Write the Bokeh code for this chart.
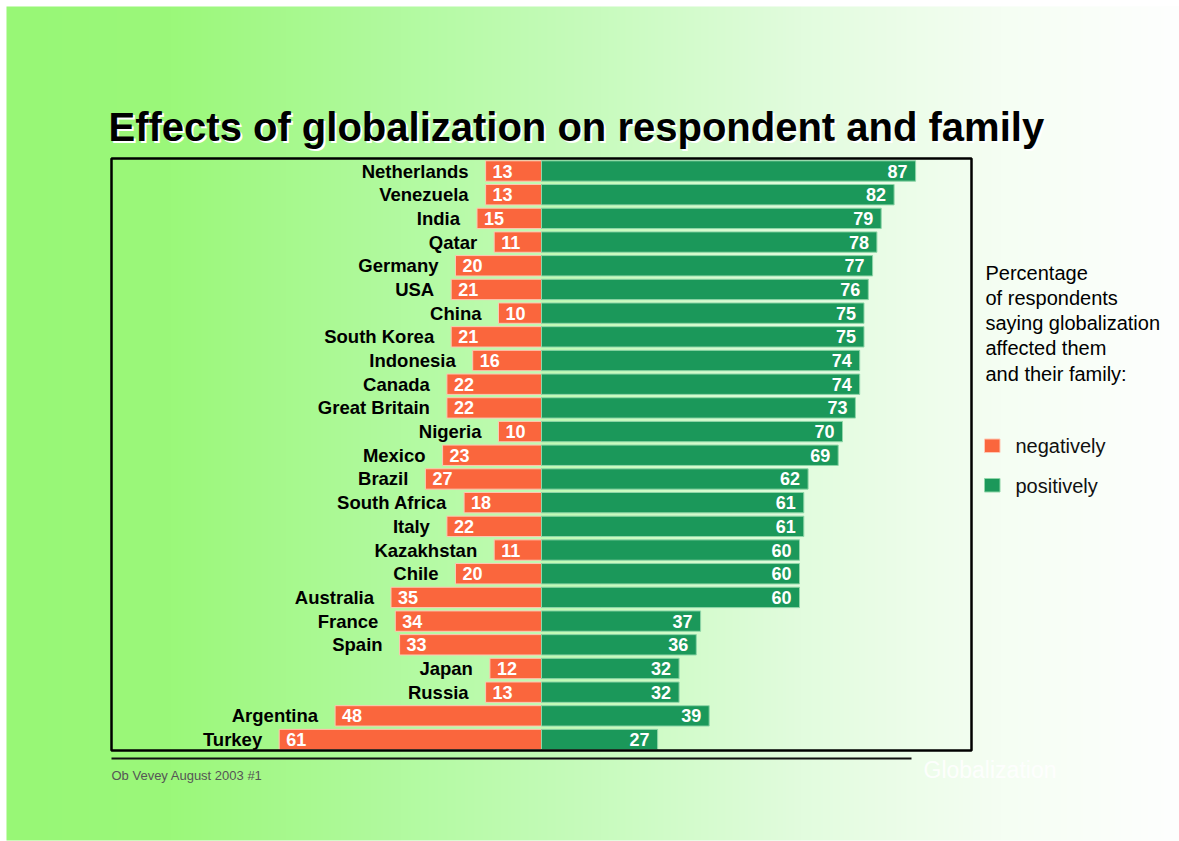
import numpy as np
from bokeh.plotting import figure
from bokeh.models import Range1d
from bokeh.core.properties import value
from bokeh.embed import file_html
from bokeh.resources import INLINE

# ---------------- data ----------------
countries = ["Netherlands", "Venezuela", "India", "Qatar", "Germany", "USA", "China",
             "South Korea", "Indonesia", "Canada", "Great Britain", "Nigeria", "Mexico",
             "Brazil", "South Africa", "Italy", "Kazakhstan", "Chile", "Australia",
             "France", "Spain", "Japan", "Russia", "Argentina", "Turkey"]
negative = [13, 13, 15, 11, 20, 21, 10, 21, 16, 22, 22, 10, 23, 27, 18, 22, 11, 20, 35,
            34, 33, 12, 13, 48, 61]
positive = [87, 82, 79, 78, 77, 76, 75, 75, 74, 74, 73, 70, 69, 62, 61, 61, 60, 60, 60,
            37, 36, 32, 32, 39, 27]
series_names = ["negatively", "positively"]
legend_lines = ["Percentage", "of respondents", "saying globalization",
                "affected them", "and their family:"]
title_text = "Effects of globalization on respondent and family"
footer_text = "Ob  Vevey  August 2003   #1"
watermark_text = "Globalization"

# ---------------- style ----------------
ORANGE = "#fa663d"
GREEN = "#1b985a"
FONT = "Liberation Sans"

W, H = 1179, 841
CX, KX = 541.0, 4.3       # pixel of zero, pixels per percent
Y0, KY = 170.5, 23.69     # pixel of first row centre, pixels per row


def X(px):
    return (px - CX) / KX


def Y(py):
    return -(py - Y0) / KY


p = figure(width=W, height=H, x_range=Range1d(X(0), X(W)), y_range=Range1d(Y(H), Y(0)),
           output_backend="svg", toolbar_location=None, min_border=0,
           x_axis_location=None, y_axis_location=None)
p.grid.visible = False
p.outline_line_color = None
p.background_fill_color = "white"
p.border_fill_color = "white"

# background gradient panel
gx = np.arange(6, W)
stops_x = [6, 170, 400, 600, 800, 1000, 1179]
stops_c = [(152, 247, 118), (155, 248, 122), (178, 250, 160), (200, 251, 190),
           (226, 252, 222), (245, 254, 243), (254, 255, 254)]
r = np.interp(gx, stops_x, [c[0] for c in stops_c]).astype(np.uint32)
g = np.interp(gx, stops_x, [c[1] for c in stops_c]).astype(np.uint32)
b = np.interp(gx, stops_x, [c[2] for c in stops_c]).astype(np.uint32)
img = (255 << 24) | (b << 16) | (g << 8) | r
img = img.reshape(1, -1).astype(np.uint32)
p.image_rgba(image=[img], x=X(6), y=Y(840), dw=(W - 6) / KX, dh=(840 - 6) / KY)

# title with white shadow
p.text(x=[X(110)], y=[Y(128)], text=[title_text], text_color="white",
       text_font=value(FONT), text_font_style="bold", text_font_size="40px",
       text_baseline="alphabetic")
p.text(x=[X(108)], y=[Y(126)], text=[title_text], text_color="black",
       text_font=value(FONT), text_font_style="bold", text_font_size="40px",
       text_baseline="alphabetic")

# bars
ys = [-i for i in range(len(countries))]
neg_left = [-v for v in negative]
p.hbar(y=ys, left=neg_left, right=0, height=0.86, fill_color=ORANGE,
       line_color="#ffc7b3", line_width=1)
p.hbar(y=ys, left=0, right=positive, height=0.86, fill_color=GREEN,
       line_color="#8fd6a8", line_width=1)

# value labels
p.text(x=neg_left, y=ys, text=[str(v) for v in negative], x_offset=7,
       text_align="left", text_baseline="middle", text_color="white",
       text_font=value(FONT), text_font_style="bold", text_font_size="18px")
p.text(x=positive, y=ys, text=[str(v) for v in positive], x_offset=-8,
       text_align="right", text_baseline="middle", text_color="white",
       text_font=value(FONT), text_font_style="bold", text_font_size="18px")

# country labels
p.text(x=neg_left, y=ys, text=countries, x_offset=-17,
       text_align="right", text_baseline="middle", text_color="black",
       text_font=value(FONT), text_font_style="bold", text_font_size="18.5px")

# chart frame
p.quad(left=[X(111)], right=[X(971)], top=[Y(158)], bottom=[Y(750)],
       fill_alpha=0, line_color="black", line_width=2.5)

# footer rule and texts
p.segment(x0=[X(111)], x1=[X(911)], y0=[Y(758)], y1=[Y(758)],
          line_color="#111111", line_width=2)
p.text(x=[X(111)], y=[Y(775)], text=[footer_text], text_color="#555555",
       text_font=value(FONT), text_font_size="13px", text_baseline="middle")
p.text(x=[X(923)], y=[Y(769)], text=[watermark_text], text_color="white",
       text_alpha=0.9, text_font=value(FONT), text_font_size="23px",
       text_baseline="middle")

# legend description
for k, line in enumerate(legend_lines):
    p.text(x=[X(985)], y=[Y(272 + k * 25.3)], text=[line], text_color="black",
           text_font=value(FONT), text_font_size="20px", text_baseline="alphabetic")

# legend items
for k, (name, col, edge) in enumerate(zip(series_names, [ORANGE, GREEN],
                                          ["#ffc7b3", "#8fd6a8"])):
    top = 438.5 + k * 39.5
    p.quad(left=[X(984)], right=[X(999.5)], top=[Y(top)], bottom=[Y(top + 13.5)],
           fill_color=col, line_color=edge, line_width=1)
    p.text(x=[X(1015)], y=[Y(top + 7)], text=[name], text_color="#111111",
           text_font=value(FONT), text_font_size="20px", text_baseline="middle")

open("out.html", "w").write(file_html(p, INLINE))
